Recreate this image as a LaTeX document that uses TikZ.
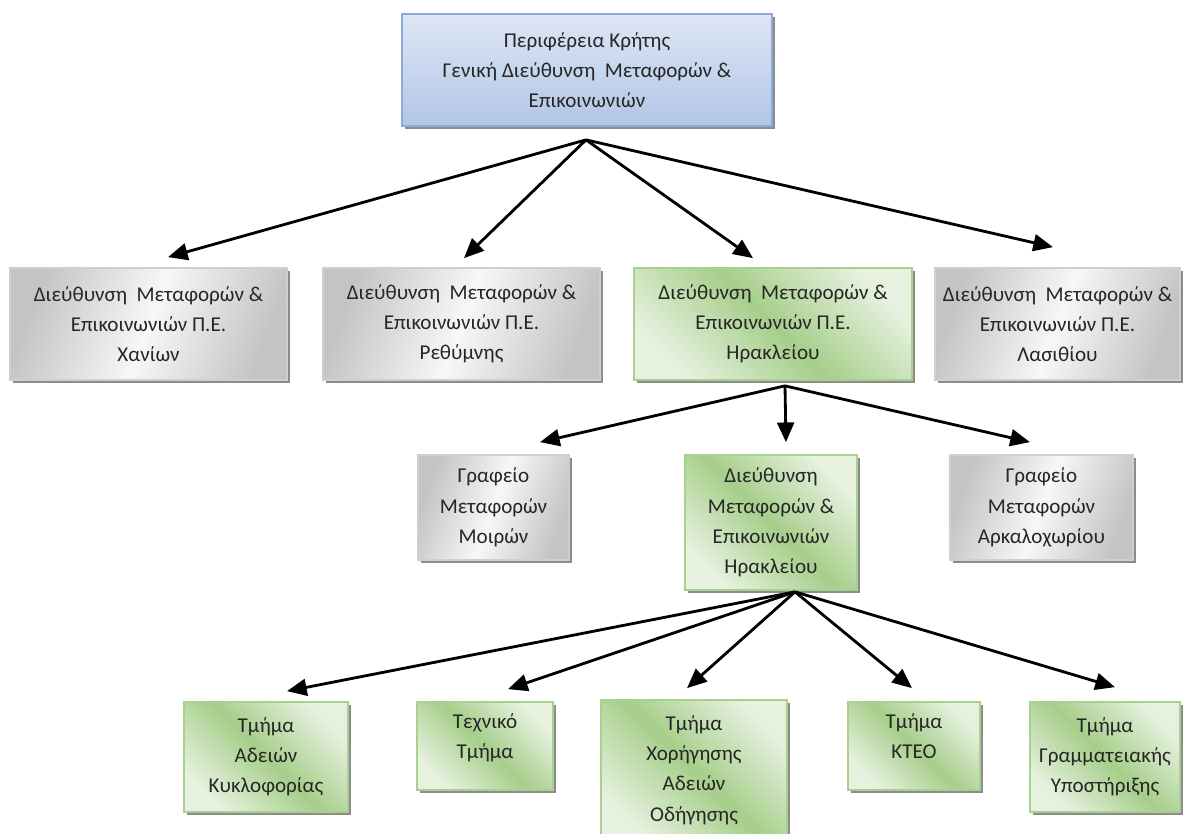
\documentclass[tikz,border=0pt]{standalone}
\usepackage{fontspec}
\setmainfont{Carlito}
\usetikzlibrary{arrows.meta, shadows}

\definecolor{graydark}{HTML}{C4C4C4}
\definecolor{graylight}{HTML}{F7F7F7}
\definecolor{grayline}{HTML}{CFCFCF}
\definecolor{greendark}{HTML}{A6CE8A}
\definecolor{greenlight}{HTML}{E6F1DF}
\definecolor{greenline}{HTML}{A9D18E}
\definecolor{bluedark}{HTML}{B2C5E6}
\definecolor{bluelight}{HTML}{DDE6F5}
\definecolor{blueline}{HTML}{8EAADB}
\definecolor{shadowc}{HTML}{8C8C8C}
\definecolor{textc}{HTML}{262626}

\tikzstyle{base} = [rectangle, text centered, align=center, inner sep=0pt, line width=1.2pt,
  font=\fontsize{15}{21.5}\selectfont, text=textc,
  drop shadow={shadow xshift=0.8mm, shadow yshift=-0.8mm, fill=shadowc, opacity=1}]
\tikzstyle{graybox}  = [base, draw=grayline, left color=graydark, right color=graydark, middle color=graylight, shading angle=70]
\tikzstyle{greenbox} = [base, draw=greenline, left color=greenlight, right color=greenlight, middle color=greendark, shading angle=135]
\tikzstyle{bluebox}  = [base, draw=blueline, top color=bluelight, bottom color=bluedark]
\tikzstyle{arrow} = [line width=2pt, -{Triangle[length=14pt,width=12pt]}]

\begin{document}
\begin{tikzpicture}[x=0.025cm, y=-0.025cm]
  \useasboundingbox (0,0) rectangle (1198,834);

  % top
  \node (crete) [bluebox, minimum width=9.25cm, minimum height=2.8cm] at (587,70)
    {Περιφέρεια Κρήτης\\ Γενική Διεύθυνση\ \ Μεταφορών \&\\ Επικοινωνιών};

  % regional units
  \node (chania) [graybox, minimum width=6.925cm, minimum height=2.8cm] at (148.5,324)
    {Διεύθυνση\ \ Μεταφορών \&\\ Επικοινωνιών Π.Ε.\\ Χανίων};
  \node (rethymno) [graybox, minimum width=6.925cm, minimum height=2.8cm] at (461.5,324)
    {Διεύθυνση\ \ Μεταφορών \&\\ Επικοινωνιών Π.Ε.\\ Ρεθύμνης};
  \node (heraklion) [greenbox, minimum width=6.95cm, minimum height=2.8cm] at (773,324)
    {Διεύθυνση\ \ Μεταφορών \&\\ Επικοινωνιών Π.Ε.\\ Ηρακλείου};
  \node (lasithi) [graybox, minimum width=6.125cm, minimum height=2.8cm] at (1057.5,324)
    {Διεύθυνση\ \ Μεταφορών \&\\ Επικοινωνιών Π.Ε.\\ Λασιθίου};

  % heraklion
  \node (moires) [graybox, minimum width=3.775cm, minimum height=2.625cm] at (493.5,507.5)
    {Γραφείο\\ Μεταφορών\\ Μοιρών};
  \node (dirher) [greenbox, minimum width=4.3cm, minimum height=3.375cm] at (771,522.5)
    {Διεύθυνση\\ Μεταφορών \&\\ Επικοινωνιών\\ Ηρακλείου};
  \node (arkal) [graybox, minimum width=4.575cm, minimum height=2.625cm] at (1041.5,507.5)
    {Γραφείο\\ Μεταφορών\\ Αρκαλοχωρίου};

  % departments
  \node (adeies) [greenbox, minimum width=4.1cm, minimum height=2.75cm] at (266,757)
    {Τμήμα\\ Αδειών\\ Κυκλοφορίας};
  \node (techniko) [greenbox, minimum width=3.4cm, minimum height=2.2cm, text depth=0.5cm] at (485,746)
    {Τεχνικό\\ Τμήμα};
  \node (odigisi) [greenbox, minimum width=4.65cm, minimum height=3.5cm] at (694,770)
    {Τμήμα\\ Χορήγησης\\ Αδειών\\ Οδήγησης};
  \node (kteo) [greenbox, minimum width=3.3cm, minimum height=2.2cm, text depth=0.5cm] at (914,746)
    {Τμήμα\\ ΚΤΕΟ};
  \node (grammat) [greenbox, minimum width=3.75cm, minimum height=2.75cm] at (1105,757)
    {Τμήμα\\ Γραμματειακής\\ Υποστήριξης};

  \coordinate (fork1) at ([shift={(-1,13)}]crete.south);
  \coordinate (fork2) at ([shift={(12,5)}]heraklion.south);
  \coordinate (fork3) at ([shift={(24,1)}]dirher.south);

  \draw [arrow] (fork1) -- ([shift={(19.5,-10)}]chania.north);
  \draw [arrow] (fork1) -- ([shift={(2.5,-9)}]rethymno.north);
  \draw [arrow] (fork1) -- ([shift={(-20,-9)}]heraklion.north);
  \draw [arrow] (fork1) -- ([shift={(-4.5,-20)}]lasithi.north);

  \draw [arrow] (fork2) -- ([shift={(46.5,-12)}]moires.north);
  \draw [arrow] (fork2) -- ([shift={(15,-12)}]dirher.north);
  \draw [arrow] (fork2) -- ([shift={(-11.5,-12)}]arkal.north);

  \draw [arrow] (fork3) -- ([shift={(21,-10)}]adeies.north);
  \draw [arrow] (fork3) -- ([shift={(23,-12)}]techniko.north);
  \draw [arrow] (fork3) -- ([shift={(-7,-11)}]odigisi.north);
  \draw [arrow] (fork3) -- ([shift={(-2,-13)}]kteo.north);
  \draw [arrow] (fork3) -- ([shift={(10,-14)}]grammat.north);
\end{tikzpicture}
\end{document}
